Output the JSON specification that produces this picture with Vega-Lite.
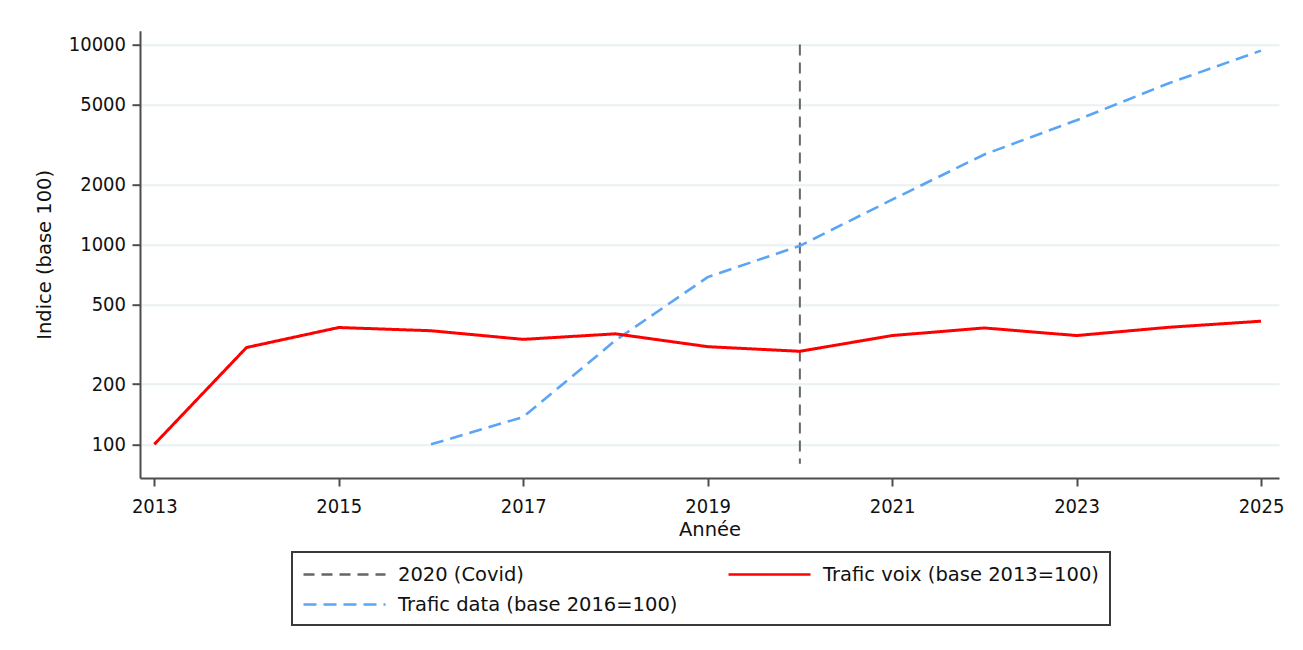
{
  "$schema": "https://vega.github.io/schema/vega-lite/v6.json",
  "width": 1139,
  "height": 447.3,
  "autosize": {"type": "none"},
  "padding": {"left": 140, "top": 30.7, "right": 24, "bottom": 172},
  "background": "white",
  "datasets": {
    "series": [
      {"annee": 2013, "indice": 100, "serie": "Trafic voix (base 2013=100)"},
      {"annee": 2014, "indice": 305, "serie": "Trafic voix (base 2013=100)"},
      {"annee": 2015, "indice": 384, "serie": "Trafic voix (base 2013=100)"},
      {"annee": 2016, "indice": 370, "serie": "Trafic voix (base 2013=100)"},
      {"annee": 2017, "indice": 335, "serie": "Trafic voix (base 2013=100)"},
      {"annee": 2018, "indice": 357, "serie": "Trafic voix (base 2013=100)"},
      {"annee": 2019, "indice": 308, "serie": "Trafic voix (base 2013=100)"},
      {"annee": 2020, "indice": 292, "serie": "Trafic voix (base 2013=100)"},
      {"annee": 2021, "indice": 350, "serie": "Trafic voix (base 2013=100)"},
      {"annee": 2022, "indice": 382, "serie": "Trafic voix (base 2013=100)"},
      {"annee": 2023, "indice": 350, "serie": "Trafic voix (base 2013=100)"},
      {"annee": 2024, "indice": 385, "serie": "Trafic voix (base 2013=100)"},
      {"annee": 2025, "indice": 413, "serie": "Trafic voix (base 2013=100)"},
      {"annee": 2016, "indice": 100, "serie": "Trafic data (base 2016=100)"},
      {"annee": 2017, "indice": 137, "serie": "Trafic data (base 2016=100)"},
      {"annee": 2018, "indice": 331, "serie": "Trafic data (base 2016=100)"},
      {"annee": 2019, "indice": 686, "serie": "Trafic data (base 2016=100)"},
      {"annee": 2020, "indice": 984, "serie": "Trafic data (base 2016=100)"},
      {"annee": 2021, "indice": 1675, "serie": "Trafic data (base 2016=100)"},
      {"annee": 2022, "indice": 2818, "serie": "Trafic data (base 2016=100)"},
      {"annee": 2023, "indice": 4180, "serie": "Trafic data (base 2016=100)"},
      {"annee": 2024, "indice": 6400, "serie": "Trafic data (base 2016=100)"},
      {"annee": 2025, "indice": 9320, "serie": "Trafic data (base 2016=100)"}
    ],
    "covid": [
      {"annee": 2020, "serie": "2020 (Covid)"}
    ]
  },
  "encoding": {
    "x": {
      "field": "annee",
      "type": "quantitative",
      "scale": {"domain": [2012.845, 2025.195], "nice": false, "zero": false},
      "axis": {
        "values": [2013, 2015, 2017, 2019, 2021, 2023, 2025],
        "format": "d",
        "title": "Année",
        "grid": false,
        "labelFlush": false,
        "labelPadding": 10,
        "titlePadding": 4
      }
    },
    "color": {
      "field": "serie",
      "type": "nominal",
      "scale": {
        "domain": ["2020 (Covid)", "Trafic data (base 2016=100)", "Trafic voix (base 2013=100)"],
        "range": ["#666666", "#5aa5f5", "#ff0000"]
      },
      "legend": {
        "title": null,
        "values": ["2020 (Covid)", "Trafic data (base 2016=100)", "Trafic voix (base 2013=100)"],
        "orient": "none",
        "legendX": 152,
        "legendY": 521.3,
        "columns": 2,
        "symbolType": "M-4.1,0H4.1",
        "symbolSize": 400,
        "symbolOffset": 30,
        "symbolStrokeWidth": 2.5,
        "labelOffset": 42,
        "columnPadding": 45,
        "rowPadding": 9,
        "padding": 11,
        "strokeColor": "#3a3a3a",
        "labelFont": "DejaVu Sans",
        "labelFontSize": 19.5,
        "labelColor": "#111111",
        "labelLimit": 0
      }
    },
    "strokeDash": {
      "field": "serie",
      "type": "nominal",
      "scale": {
        "domain": ["2020 (Covid)", "Trafic data (base 2016=100)", "Trafic voix (base 2013=100)"],
        "range": [[11, 7], [13, 7], [1, 0]]
      },
      "legend": {
        "title": null,
        "values": ["2020 (Covid)", "Trafic data (base 2016=100)", "Trafic voix (base 2013=100)"],
        "orient": "none",
        "legendX": 152,
        "legendY": 521.3,
        "columns": 2,
        "symbolType": "M-4.1,0H4.1",
        "symbolSize": 400,
        "symbolOffset": 30,
        "symbolStrokeWidth": 2.5,
        "labelOffset": 42,
        "columnPadding": 45,
        "rowPadding": 9,
        "padding": 11,
        "strokeColor": "#3a3a3a",
        "labelFont": "DejaVu Sans",
        "labelFontSize": 19.5,
        "labelColor": "#111111",
        "labelLimit": 0
      }
    }
  },
  "layer": [
    {
      "data": {"name": "covid"},
      "mark": {"type": "rule", "strokeWidth": 2},
      "encoding": {
        "y": {"datum": 10000, "type": "quantitative"},
        "y2": {"datum": 80}
      }
    },
    {
      "data": {"name": "series"},
      "transform": [{"filter": "datum.serie === 'Trafic data (base 2016=100)'"}],
      "mark": {"type": "line", "strokeWidth": 2.6},
      "encoding": {
        "y": {
          "field": "indice",
          "type": "quantitative",
          "scale": {"type": "log", "domain": [67.85, 11722], "nice": false},
          "axis": {
            "values": [100, 200, 500, 1000, 2000, 5000, 10000],
            "format": "d",
            "title": "Indice (base 100)",
            "grid": true,
            "labelPadding": 6.5,
            "titlePadding": 14
          }
        }
      }
    },
    {
      "data": {"name": "series"},
      "transform": [{"filter": "datum.serie === 'Trafic voix (base 2013=100)'"}],
      "mark": {"type": "line", "strokeWidth": 3},
      "encoding": {
        "y": {"field": "indice", "type": "quantitative"}
      }
    }
  ],
  "config": {
    "view": {"stroke": null},
    "legend": {"strokeWidth": 2},
    "axis": {
      "domainColor": "#4d4d4d",
      "domainWidth": 2,
      "tickColor": "#4d4d4d",
      "tickWidth": 2,
      "tickSize": 8,
      "gridColor": "#e9f1f3",
      "gridWidth": 2,
      "labelFont": "DejaVu Sans Condensed",
      "labelFontSize": 20,
      "labelColor": "#111111",
      "titleFont": "DejaVu Sans",
      "titleFontSize": 19.5,
      "titleFontWeight": "normal",
      "titleColor": "#111111"
    }
  }
}
